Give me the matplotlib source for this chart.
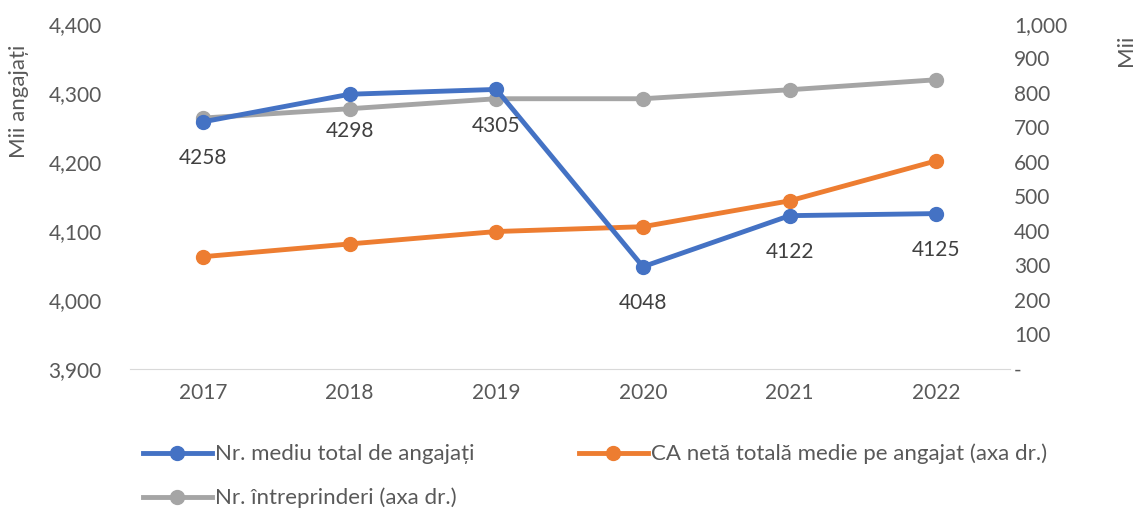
import matplotlib
matplotlib.use("Agg")
import matplotlib.pyplot as plt
from matplotlib.ticker import FuncFormatter

plt.rcParams['font.family'] = ['Lato', 'DejaVu Sans']

years = ["2017", "2018", "2019", "2020", "2021", "2022"]
angajati = [4258, 4298, 4305, 4048, 4122, 4125]
ca_neta = [325, 362, 398, 412, 487, 603]
intreprinderi = [727, 754, 783, 783, 809, 838]

labels = ["Nr. mediu total de angajați",
          "CA netă totală medie pe angajat (axa dr.)",
          "Nr. întreprinderi (axa dr.)"]

blue = "#4472C4"
orange = "#ED7D31"
gray = "#A5A5A5"
txt = "#595959"

fig = plt.figure(figsize=(11.37, 5.08), dpi=100)
ax = fig.add_axes([0.114, 0.274, 0.774, 0.679])
ax2 = ax.twinx()

x = list(range(len(years)))
l1, = ax.plot(x, angajati, color=blue, lw=3.5, marker="o", ms=10, zorder=3)
l2, = ax2.plot(x, ca_neta, color=orange, lw=3.5, marker="o", ms=10)
l3, = ax2.plot(x, intreprinderi, color=gray, lw=3.5, marker="o", ms=10)

for xi, v in zip(x, angajati):
    ax.annotate(str(v), (xi, v), xytext=(0, -19), textcoords="offset points",
                ha="center", va="top", fontsize=15, color="#404040")

ax.set_zorder(ax2.get_zorder() + 1)
ax.patch.set_visible(False)

ax.set_xlim(-0.5, 5.5)
ax.set_ylim(3900, 4400)
ax.set_yticks(range(3900, 4401, 100))
ax2.set_ylim(0, 1000)
ax2.set_yticks(range(0, 1001, 100))
ax.set_xticks(x)
ax.set_xticklabels(years)

ax.yaxis.set_major_formatter(FuncFormatter(lambda v, p: f"{int(v):,}"))
ax2.yaxis.set_major_formatter(FuncFormatter(lambda v, p: "-" if v == 0 else f"{int(v):,}"))

for a in (ax, ax2):
    for s in a.spines.values():
        s.set_visible(False)
    a.tick_params(length=0, labelsize=15, colors=txt)
ax.spines["bottom"].set_visible(True)
ax.spines["bottom"].set_color("#D9D9D9")
ax.tick_params(axis="x", pad=10)
ax.tick_params(axis="y", pad=20)
ax2.tick_params(axis="y", pad=3)

fig.text(0.017, 0.8, "Mii angajați", rotation=90, ha="center", va="center",
         fontsize=16, color=txt)
fig.text(0.99, 0.9, "Mii", rotation=90, ha="center", va="center",
         fontsize=16, color=txt)

# row-wise order: column 1 holds l1, l3; column 2 holds l2
fig.legend([l1, l3, l2], [labels[0], labels[2], labels[1]],
           loc="lower left", bbox_to_anchor=(0.108, -0.04),
           ncol=2, frameon=False, fontsize=16, labelcolor=txt,
           handlelength=3.1, handletextpad=0.15, columnspacing=4.7,
           labelspacing=1.05)

fig.savefig("out.png", dpi=100)
